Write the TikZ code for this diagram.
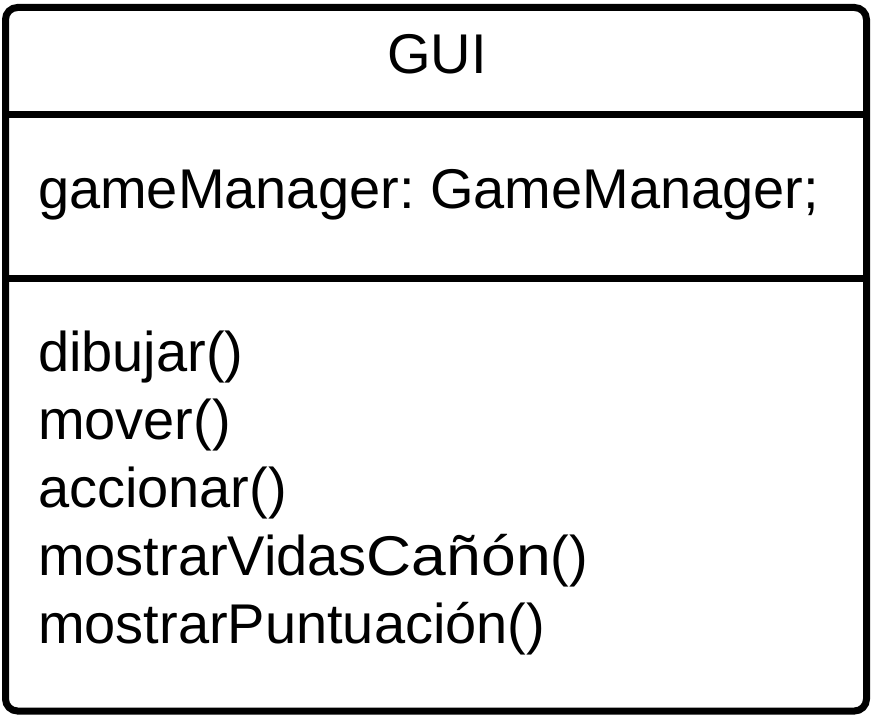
\documentclass[tikz,border=0pt]{standalone}
\usepackage{fontspec}
\setmainfont{Liberation Sans}
\newfontfamily\widefont[FakeStretch=1.115]{Liberation Sans}
\frenchspacing
\begin{document}
\begin{tikzpicture}[x=1pt,y=-1pt,
  umltext/.style={inner sep=0pt, outer sep=0pt, font=\fontsize{56}{68}\selectfont},
  border/.style={draw=black, line width=7pt, rounded corners=12pt},
  divider/.style={draw=black, line width=7pt}]
\useasboundingbox (0,0) rectangle (874,719);
\draw[border, fill=white] (5.5,7.5) rectangle (866.5,711);
\coordinate (d1l) at (5.5,115);
\coordinate (d1r) at (866.5,115);
\coordinate (d2l) at (5.5,278);
\coordinate (d2r) at (866.5,278);
\draw[divider] (d1l) -- (d1r);
\draw[divider] (d2l) -- (d2r);
\node[umltext, anchor=base] (title) at (437,74) {GUI};
\node[umltext, anchor=base west] (attr) at (38,209) {gameManager: GameManager;};
\node[umltext, anchor=base west] (m1) at (38,371) {dibujar()};
\node[umltext, anchor=base west] (m2) at (38,439) {mover()};
\node[umltext, anchor=base west] (m3) at (38,507) {accionar()};
\node[umltext, anchor=base west] (m4) at (38,575) {mostrarVidas{\widefont Cañón}()};
\node[umltext, anchor=base west] (m5) at (38,643) {mostrarPuntuación()};
\end{tikzpicture}
\end{document}
